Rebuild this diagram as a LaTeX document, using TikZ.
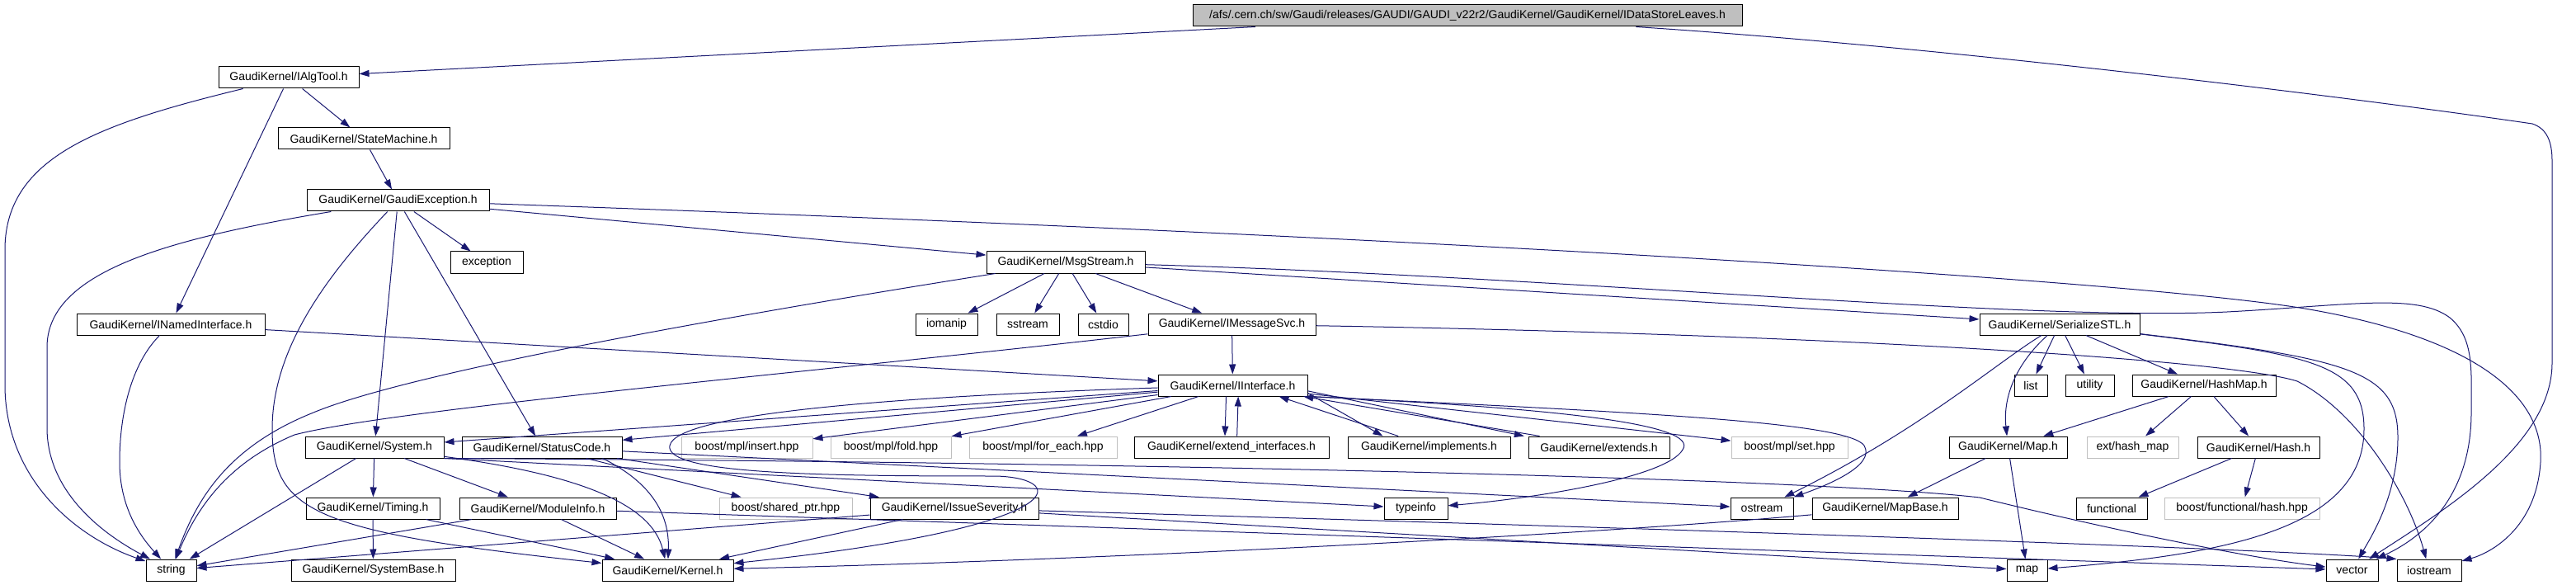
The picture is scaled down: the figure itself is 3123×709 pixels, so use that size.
\documentclass[tikz,border=0pt]{standalone}
\usepackage{fontspec}
\setmainfont{Liberation Sans}
\usetikzlibrary{arrows.meta}
\definecolor{eblue}{HTML}{191970}
\definecolor{gbord}{HTML}{BFBFBF}
\newcommand\gn[5][nb]{\node[#1,minimum width=#4*0.75pt] (#2) at (#3) {#5};}
\begin{document}
\begin{tikzpicture}[x=0.75pt,y=-0.75pt,
  nb/.style={draw=black,line width=0.75pt,minimum height=19.5pt,inner sep=0pt,font=\fontsize{10.5pt}{12pt}\selectfont,fill=white},
  gb/.style={nb,draw=gbord},
  rb/.style={nb,fill=gbord},
  e/.style={draw=eblue,line width=0.75pt,-{Triangle[length=9pt,width=6pt]}}]
\useasboundingbox (0,0) rectangle (3123,709);
% row 0
\gn[rb]{root}{1779,19}{666}{/afs/.cern.ch/sw/Gaudi/releases/GAUDI/GAUDI\_v22r2/GaudiKernel/GaudiKernel/IDataStoreLeaves.h}
% row 1-4
\gn{ialg}{350,94}{170}{GaudiKernel/IAlgTool.h}
\gn{sm}{441,168}{208}{GaudiKernel/StateMachine.h}
\gn{gex}{482.5,243}{221}{GaudiKernel/GaudiException.h}
\gn{exc}{590,318}{88}{exception}
\gn{msg}{1292,318}{192}{GaudiKernel/MsgStream.h}
% row 5
\gn{nif}{207,393}{228}{GaudiKernel/INamedInterface.h}
\gn{ioman}{1147.5,393}{75}{iomanip}
\gn{sstr}{1246,393}{76}{sstream}
\gn{cstd}{1337.5,393}{61}{cstdio}
\gn{imsg}{1493.5,393}{203}{GaudiKernel/IMessageSvc.h}
\gn{ser}{2497,393}{194}{GaudiKernel/SerializeSTL.h}
% row 6
\gn{iif}{1494.5,467}{181}{GaudiKernel/IInterface.h}
\gn{list}{2462,467}{40}{list}
\gn{util}{2533.5,467}{59}{utility}
\gn{hmap}{2672,467}{174}{GaudiKernel/HashMap.h}
% row 7
\gn{sys}{454,542}{168}{GaudiKernel/System.h}
\gn{stc}{657,542}{194}{GaudiKernel/StatusCode.h}
\gn[gb]{ins}{905.5,542}{159}{boost/mpl/insert.hpp}
\gn[gb]{fold}{1080,542}{146}{boost/mpl/fold.hpp}
\gn[gb]{fe}{1264.5,542}{179}{boost/mpl/for\_each.hpp}
\gn{ext}{1493,542}{236}{GaudiKernel/extend\_interfaces.h}
\gn{impl}{1732.5,542}{197}{GaudiKernel/implements.h}
\gn{extd}{1938.5,542}{171}{GaudiKernel/extends.h}
\gn[gb]{set}{2169.5,542}{141}{boost/mpl/set.hpp}
\gn{mapH}{2434.5,542}{143}{GaudiKernel/Map.h}
\gn[gb]{ehm}{2585.5,542}{111}{ext/hash\_map}
\gn{hash}{2738,542}{148}{GaudiKernel/Hash.h}
% row 8
\gn{tim}{452,616}{162}{GaudiKernel/Timing.h}
\gn{mod}{652,616}{190}{GaudiKernel/ModuleInfo.h}
\gn[gb]{shp}{952.5,616}{161}{boost/shared\_ptr.hpp}
\gn{iss}{1157,616}{204}{GaudiKernel/IssueSeverity.h}
\gn{tinfo}{1716.5,616}{77}{typeinfo}
\gn{ostr}{2136,616}{76}{ostream}
\gn{mapb}{2285.5,616}{177}{GaudiKernel/MapBase.h}
\gn{func}{2560,616}{86}{functional}
\gn[gb]{bfh}{2718,616}{188}{boost/functional/hash.hpp}
% row 9
\gn{str}{207.5,691}{61}{string}
\gn{sysb}{452.5,691}{199}{GaudiKernel/SystemBase.h}
\gn{kern}{809.5,691}{159}{GaudiKernel/Kernel.h}
\gn{smap}{2457.5,691}{49}{map}
\gn{vec}{2851.5,691}{63}{vector}
\gn{iostr}{2945,691}{78}{iostream}
% ---- edges ----
\draw[e] (root) -- (ialg);
\draw[e] (root) .. controls (2400,60) and (2900,125) .. (3070,150) .. controls (3088,156) and (3094,172) .. (3094,195) -- (3094,440) .. controls (3094,540) and (2960,620) .. (vec);
\draw[e] (ialg) -- (sm);
\draw[e] (ialg) -- (nif);
\draw[e] (ialg) .. controls (120,150) and (8,190) .. (6,300) -- (6,470) .. controls (8,580) and (90,650) .. (str);
\draw[e] (sm) -- (gex);
\draw[e] (gex) -- (exc);
\draw[e] (gex) -- (msg);
\draw[e] (gex) -- (sys);
\draw[e] (gex) -- (stc);
\draw[e] (gex) .. controls (200,290) and (58,330) .. (57,420) -- (57,520) .. controls (58,600) and (130,650) .. (str);
\draw[e] (gex) .. controls (400,330) and (330,420) .. (330,520) .. controls (330,620) and (380,645) .. (kern);
\draw[e] (gex) .. controls (1700,285) and (2600,340) .. (2800,375) .. controls (3000,410) and (3085,480) .. (3080,560) .. controls (3075,640) and (3020,670) .. (iostr);
\draw[e] (msg) -- (ioman);
\draw[e] (msg) -- (sstr);
\draw[e] (msg) -- (cstd);
\draw[e] (msg) -- (imsg);
\draw[e] (msg) -- (ser);
\draw[e] (msg) .. controls (1900,335) and (2450,390) .. (2700,378) .. controls (2850,370) and (2930,355) .. (2970,385) .. controls (3000,410) and (2996,450) .. (2996,500) .. controls (2996,600) and (2940,650) .. (vec);
\draw[e] (msg) .. controls (900,380) and (500,450) .. (380,500) .. controls (280,540) and (240,600) .. (str);
\draw[e] (imsg) -- (iif);
\draw[e] (imsg) .. controls (1000,450) and (480,495) .. (357,527) .. controls (290,555) and (245,600) .. (str);
\draw[e] (imsg) .. controls (2200,405) and (2700,435) .. (2785,462) .. controls (2860,500) and (2920,600) .. (iostr);
\draw[e] (nif) -- (iif);
\draw[e] (nif) .. controls (160,440) and (145,500) .. (145,560) .. controls (145,615) and (170,650) .. (str);
\draw[e] (ser) -- (list);
\draw[e] (ser) -- (util);
\draw[e] (ser) -- (hmap);
\draw[e] (ser) .. controls (2445,440) and (2428,480) .. (mapH);
\draw[e] (ser) .. controls (2420,440) and (2330,520) .. (ostr);
\draw[e] (ser) .. controls (2800,430) and (2866,440) .. (2866,520) .. controls (2866,640) and (2700,672) .. (smap);
\draw[e] (ser) .. controls (2850,435) and (2907,450) .. (2907,530) .. controls (2907,600) and (2875,650) .. (vec);
\draw[e] (hmap) -- (mapH);
\draw[e] (hmap) -- (ehm);
\draw[e] (hmap) -- (hash);
\draw[e] (hash) -- (func);
\draw[e] (hash) -- (bfh);
\draw[e] (mapH) -- (mapb);
\draw[e] (mapH) -- (smap);
\draw[e] (mapb) .. controls (1900,650) and (1300,680) .. (kern);
\draw[e] (iif) -- (sys);
\draw[e] (iif) -- (stc);
\draw[e] (iif) -- (ins);
\draw[e] (iif) -- (fold);
\draw[e] (iif) -- (fe);
\draw[e] ([xshift=-6pt]iif.south) -- ([xshift=-6pt]ext.north);
\draw[e] ([xshift=5pt]ext.north) -- ([xshift=5pt]iif.south);
\draw[e] ([yshift=3pt]iif.south east) -- ([xshift=-42pt]impl.north);
\draw[e] ([xshift=-28pt]impl.north) -- ([xshift=42pt]iif.south);
\draw[e] ([yshift=5pt]iif.south east) -- ([xshift=-68pt]extd.north);
\draw[e] ([xshift=-54pt]extd.north) -- ([xshift=-4pt]iif.south east);
\draw[e] (iif) -- (set);
\draw[e] (iif.south east) .. controls (1900,495) and (2060,515) .. (2040,545) .. controls (2020,580) and (1850,605) .. (tinfo);
\draw[e] (iif.south east) .. controls (2000,500) and (2240,512) .. (2260,540) .. controls (2275,565) and (2210,590) .. (ostr);
\draw[e] (iif) .. controls (1100,480) and (820,500) .. (812,540) .. controls (805,575) and (1000,577) .. (1208,577) .. controls (1300,580) and (1300,640) .. (kern);
\draw[e] (sys) -- (tim);
\draw[e] (sys) -- (mod);
\draw[e] (sys) -- (str);
\draw[e] (sys) .. controls (700,575) and (790,610) .. (kern);
\draw[e] (sys.south east) -- (tinfo);
\draw[e] (sys.south east) .. controls (1400,560) and (2200,580) .. (2400,603) .. controls (2550,640) and (2720,675) .. (vec);
\draw[e] (stc) -- (ostr);
\draw[e] (stc) -- (iss);
\draw[e] (stc) -- (shp);
\draw[e] ([xshift=-18pt]stc.south east) .. controls (780,580) and (812,615) .. (kern);
\draw[e] (tim) -- (sysb);
\draw[e] (tim) -- (kern);
\draw[e] (mod) -- (kern);
\draw[e] (mod) -- (str);
\draw[e] (mod) -- (vec);
\draw[e] (iss) -- (kern);
\draw[e] (iss) -- (str);
\draw[e] (iss) -- (smap);
\draw[e] (iss) .. controls (2000,640) and (2750,665) .. (iostr.north west);
\end{tikzpicture}
\end{document}
